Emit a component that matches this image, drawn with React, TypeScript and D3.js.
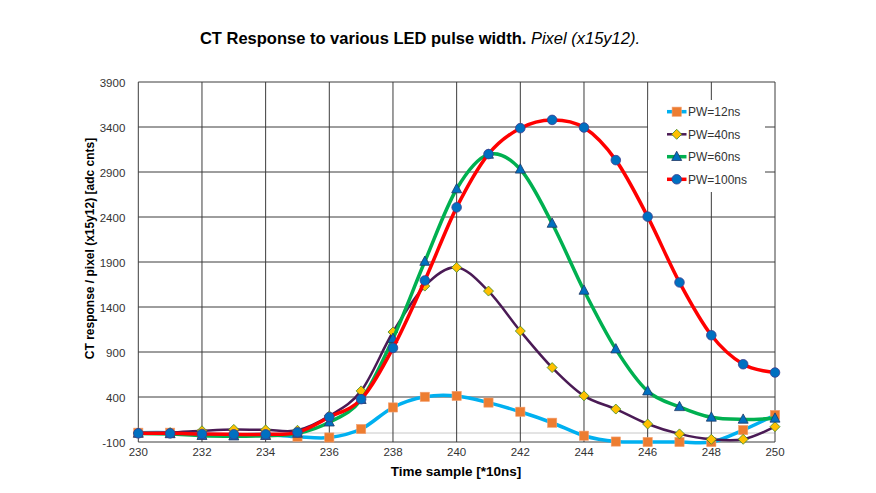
import React from "react";
import * as d3 from "d3";

const samples = [230, 231, 232, 233, 234, 235, 236, 237, 238, 239, 240, 241, 242, 243, 244, 245, 246, 247, 248, 249, 250];
const pw12 = [3, 3, -15, -20, -18, -41, -50, 44, 284, 402, 412, 338, 236, 114, -30, -95, -100, -100, -100, 33, 200];
const pw40 = [0, 5, 25, 40, 35, 30, 190, 468, 1122, 1632, 1840, 1577, 1133, 727, 413, 266, 100, -10, -70, -70, 70];
const pw60 = [-5, -10, -30, -35, -30, -5, 120, 370, 1049, 1905, 2711, 3095, 2930, 2328, 1584, 932, 465, 291, 174, 151, 163];
const pw100 = [-4, -4, -11, -15, -15, 7, 177, 376, 945, 1695, 2507, 3099, 3387, 3479, 3394, 3032, 2404, 1673, 1086, 764, 672];

const xTicks = [230, 232, 234, 236, 238, 240, 242, 244, 246, 248, 250];
const yTicks = [-100, 400, 900, 1400, 1900, 2400, 2900, 3400, 3900];

const seriesNames = ["PW=12ns", "PW=40ns", "PW=60ns", "PW=100ns"];

type Marker = "square" | "diamond" | "triangle" | "circle";
const styles: { line: string; width: number; marker: Marker; fill: string; stroke: string }[] = [
  { line: "#00B0F0", width: 3.5, marker: "square", fill: "#ED7D31", stroke: "#F4A070" },
  { line: "#4A1A55", width: 2.5, marker: "diamond", fill: "#FFC000", stroke: "#3A8A2A" },
  { line: "#00B050", width: 3.5, marker: "triangle", fill: "#0070C0", stroke: "#1F3864" },
  { line: "#FF0000", width: 3.5, marker: "circle", fill: "#0070C0", stroke: "#3D3D8F" },
];

const W = 876;
const H = 493;
const left = 138.3, right = 775, top = 82, bottom = 442;

function MarkerShape({ kind, x, y, fill, stroke }: { kind: Marker; x: number; y: number; fill: string; stroke: string }) {
  if (kind === "square") return <rect x={x - 4.6} y={y - 4.6} width={9.2} height={9.2} fill={fill} stroke={stroke} strokeWidth={0.6} />;
  if (kind === "diamond") {
    const r = 5;
    return <path d={`M${x},${y - r}L${x + r},${y}L${x},${y + r}L${x - r},${y}Z`} fill={fill} stroke={stroke} strokeWidth={0.8} />;
  }
  if (kind === "triangle") {
    return <path d={`M${x},${y - 5.5}L${x + 5},${y + 3.8}L${x - 5},${y + 3.8}Z`} fill={fill} stroke={stroke} strokeWidth={0.8} />;
  }
  return <circle cx={x} cy={y} r={4.8} fill={fill} stroke={stroke} strokeWidth={0.8} />;
}

export default function App() {
  const x = d3.scaleLinear().domain([230, 250]).range([left, right]);
  const y = d3.scaleLinear().domain([-100, 3900]).range([bottom, top]);
  const all = [pw12, pw40, pw60, pw100];
  const line = d3
    .line<number>()
    .x((_, i) => x(samples[i]))
    .y((d) => y(d))
    .curve(d3.curveCardinal.tension(0));

  const font = "'Liberation Sans', Arial, sans-serif";
  const legX = 648, legY = 100, legW = 117, legH = 92;
  const legRows = [111.7, 134.3, 156.7, 179.3];

  return (
    <div>
      <style>{"body{margin:0}"}</style>
      <svg width={W} height={H} style={{ display: "block", background: "#fff" }} fontFamily={font}>
        <text x={420} y={44} textAnchor="middle" fontSize={16.5} fontWeight="bold" fill="#000">
          CT Response to various LED pulse width.{" "}
          <tspan fontStyle="italic" fontWeight="normal">Pixel (x15y12).</tspan>
        </text>

        {/* zero line */}
        <line x1={left} x2={right} y1={y(0)} y2={y(0)} stroke="#C8C8C8" strokeWidth={1} />
        {/* grid */}
        {yTicks.map((t) => (
          <line key={"gy" + t} x1={left} x2={right} y1={y(t)} y2={y(t)} stroke="#3C3C3C" strokeWidth={1} />
        ))}
        {xTicks.map((t) => (
          <line key={"gx" + t} x1={x(t)} x2={x(t)} y1={top} y2={bottom} stroke="#3C3C3C" strokeWidth={1} />
        ))}

        {/* tick labels */}
        {yTicks.map((t) => (
          <text key={"ty" + t} x={left - 13} y={y(t) + 1} dy="0.35em" textAnchor="end" fontSize={11.5} fill="#333">
            {t}
          </text>
        ))}
        {xTicks.map((t) => (
          <text key={"tx" + t} x={x(t)} y={455.5} textAnchor="middle" fontSize={11.5} fill="#333">
            {t}
          </text>
        ))}

        {/* axis titles */}
        <text x={456} y={476} textAnchor="middle" fontSize={13.5} fontWeight="bold" fill="#000">
          Time sample [*10ns]
        </text>
        <text
          transform={`translate(93.5, 248.5) rotate(-90)`}
          textAnchor="middle"
          fontSize={12}
          fontWeight="bold"
          fill="#000"
        >
          CT response / pixel (x15y12) [adc cnts]
        </text>

        {/* series */}
        {all.map((vals, si) => (
          <g key={"s" + si}>
            <path d={line(vals) || ""} fill="none" stroke={styles[si].line} strokeWidth={styles[si].width} strokeLinejoin="round" />
            {vals.map((v, i) => (
              <MarkerShape key={i} kind={styles[si].marker} x={x(samples[i])} y={y(v)} fill={styles[si].fill} stroke={styles[si].stroke} />
            ))}
          </g>
        ))}

        {/* legend */}
        <rect x={legX} y={legY} width={legW} height={legH} fill="#fff" />
        {seriesNames.map((name, i) => (
          <g key={name}>
            <line x1={667} x2={686.5} y1={legRows[i]} y2={legRows[i]} stroke={styles[i].line} strokeWidth={styles[i].width} />
            <MarkerShape kind={styles[i].marker} x={676.7} y={legRows[i]} fill={styles[i].fill} stroke={styles[i].stroke} />
            <text x={688} y={legRows[i]} dy="0.35em" fontSize={12} fill="#333">
              {name}
            </text>
          </g>
        ))}
      </svg>
    </div>
  );
}
